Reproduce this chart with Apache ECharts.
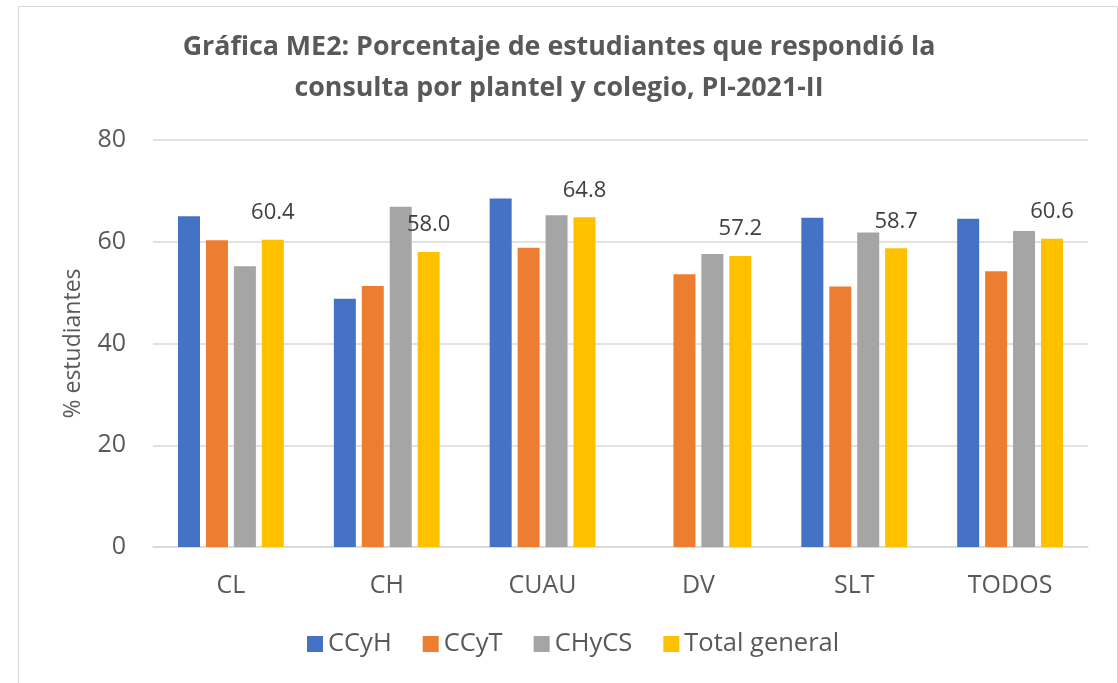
<!DOCTYPE html>
<html>
<head>
<meta charset="utf-8">
<script src="https://cdn.jsdelivr.net/npm/echarts@6/dist/echarts.min.js"></script>
<style>
  html, body { margin: 0; padding: 0; background: #fff; }
  #frame { position: absolute; left: 18px; top: 6px; width: 1098px; height: 690px; border: 1.5px solid #d9d9d9; }
  #chart { position: absolute; left: 0; top: 0; width: 1118px; height: 683px; }
</style>
</head>
<body>
<div id="frame"></div>
<div id="chart"></div>
<script>
  // datos
  const planteles = ['CL', 'CH', 'CUAU', 'DV', 'SLT', 'TODOS'];
  const ccyh = [65.0, 48.8, 68.5, null, 64.7, 64.5];
  const ccyt = [60.3, 51.3, 58.8, 53.6, 51.2, 54.2];
  const chycs = [55.2, 66.9, 65.2, 57.6, 61.8, 62.1];
  const totalGeneral = [60.4, 58.0, 64.8, 57.2, 58.7, 60.6];
  const yTicks = [0, 20, 40, 60, 80];

  const gris = '#595959';
  const fuente = "'Open Sans', 'Noto Sans', sans-serif";

  let myChart = echarts.init(document.getElementById('chart'));
  let option = {
    animation: false,
    textStyle: { fontFamily: fuente, color: gris },
    title: {
      text: 'Gráfica ME2: Porcentaje de estudiantes que respondió la\nconsulta por plantel y colegio, PI-2021-II',
      left: 'center',
      top: 22,
      textStyle: { fontSize: 26.8, fontWeight: 'bold', color: gris, lineHeight: 41, fontFamily: fuente }
    },
    legend: {
      bottom: 21,
      left: 302,
      itemWidth: 16,
      itemHeight: 16,
      itemGap: 31,
      icon: 'rect',
      textStyle: { fontSize: 25.5, color: gris },
      data: ['CCyH', 'CCyT', 'CHyCS', 'Total general']
    },
    grid: { left: 153, right: 30, top: 140, bottom: 136 },
    xAxis: {
      type: 'category',
      data: planteles,
      axisTick: { show: false },
      axisLine: { lineStyle: { color: '#d9d9d9', width: 1.5 } },
      axisLabel: { fontSize: 25, color: gris, margin: 26 }
    },
    yAxis: {
      type: 'value',
      min: yTicks[0],
      max: yTicks[yTicks.length - 1],
      interval: 20,
      name: '% estudiantes',
      nameLocation: 'middle',
      nameGap: 68,
      nameTextStyle: { fontSize: 23, color: gris },
      axisLabel: { fontSize: 25, color: gris, margin: 27 },
      splitLine: { lineStyle: { color: '#d9d9d9', width: 1.5 } }
    },
    series: [
      { name: 'CCyH', type: 'bar', data: ccyh, barWidth: 22, barGap: '27%', itemStyle: { color: '#4472c4' } },
      { name: 'CCyT', type: 'bar', data: ccyt, barWidth: 22, barGap: '27%', itemStyle: { color: '#ed7d31' } },
      { name: 'CHyCS', type: 'bar', data: chycs, barWidth: 22, barGap: '27%', itemStyle: { color: '#a5a5a5' } },
      {
        name: 'Total general', type: 'bar', data: totalGeneral, barWidth: 22, barGap: '27%',
        itemStyle: { color: '#ffc000' },
        label: {
          show: true, position: 'top', distance: 16,
          fontSize: 22, color: '#404040',
          formatter: p => p.value.toFixed(1)
        }
      }
    ]
  };
  myChart.setOption(option);
</script>
</body>
</html>
